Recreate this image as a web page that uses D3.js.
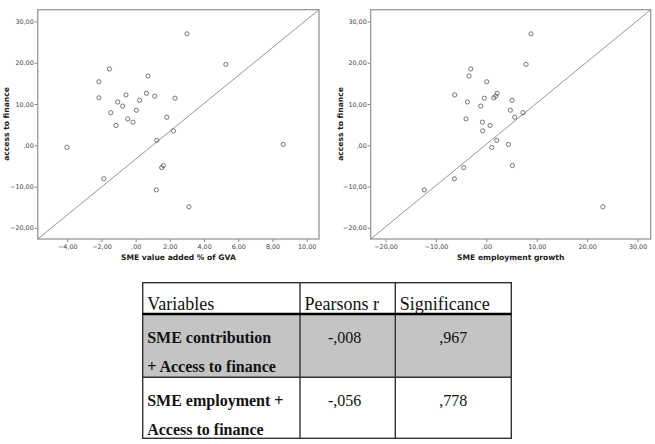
<!DOCTYPE html>
<html>
<head>
<meta charset="utf-8">
<script src="https://cdn.jsdelivr.net/npm/d3@7"></script>
<style>
  body { margin: 0; background: #fff; }
  svg { display: block; opacity: 0.999; }
</style>
</head>
<body>
<script>
// access to finance, shared y for both scatterplots
const accessToFinance = [27.0, 19.6, 18.5, 16.8, 15.4, 12.6, 12.2, 11.9, 11.5, 11.4, 10.9, 10.5, 9.5, 8.5, 7.9, 6.8, 6.4, 5.6, 4.8, 3.5, 1.2, -0.5, 0.2, -4.9, -5.4, -8.1, -10.8, -14.9]
// SME value added % of GVA
const smeValueAdded = [3.0, 5.27, -1.54, 0.72, -2.15, 0.63, -0.57, 1.11, -2.15, 2.30, 0.23, -1.05, -0.76, 0.04, -1.46, 1.82, -0.47, -0.16, -1.15, 2.21, 1.23, -4.02, 8.63, 1.62, 1.52, -1.86, 1.21, 3.11]
// SME employment growth
const smeEmployment = [8.86, 7.87, -3.1, -3.44, 0.07, 2.12, -6.28, 1.85, 1.46, -0.40, 5.09, -3.77, -1.12, 4.76, 7.28, 5.62, -4.03, -0.79, 0.73, -0.73, 2.05, 1.06, 4.37, 5.16, -4.5, -6.35, -12.3, 23.1]

const yTicks = [-20, -10, 0, 10, 20, 30]
const xTicksLeft = [-4, -2, 0, 2, 4, 6, 8, 10]
const xTicksRight = [-20, -10, 0, 10, 20, 30]

const tableHead = ['Variables', 'Pearsons r', 'Significance']
const tableRows = [
  { name: ['SME contribution', '+ Access to finance'], r: '-,008', sig: ',967', shade: true },
  { name: ['SME employment +', 'Access to finance'], r: '-,056', sig: ',778', shade: false }
]

const width = 655
const height = 444
const fmt = (d) => d3.format('.2f')(d).replace('.', ',').replace(/^(-?)0,/, '$1,')

const svg = d3.select('body')
  .append('svg')
  .attr('width', width)
  .attr('height', height)

function scatter(xs, opts) {
  const x = d3.scaleLinear().domain(opts.xDomain).range([opts.left, opts.right])
  const y = d3.scaleLinear().domain([-22.7, 32.85]).range([239, 9.7])
  const g = svg.append('g')

  g.append('g')
    .attr('transform', 'translate(' + opts.left + ',0)')
    .call(d3.axisLeft(y).tickValues(yTicks).tickFormat(fmt).tickSize(3).tickPadding(1))
    .call((a) => a.select('.domain').remove())
  g.append('g')
    .attr('transform', 'translate(0,239)')
    .call(d3.axisBottom(x).tickValues(opts.xTicks).tickFormat(fmt).tickSize(3).tickPadding(2))
    .call((a) => a.select('.domain').remove())
  g.selectAll('.tick line').attr('stroke', '#888')
  g.selectAll('.tick text')
    .attr('fill', '#444')
    .attr('font-family', 'DejaVu Sans')
    .attr('font-size', '6.4px')

  // frame
  g.append('rect')
    .attr('x', opts.left)
    .attr('y', 9.7)
    .attr('width', opts.right - opts.left)
    .attr('height', 239 - 9.7)
    .attr('fill', 'none')
    .attr('stroke', '#999')
    .attr('stroke-width', 1.3)

  // reference diagonal
  g.append('line')
    .attr('x1', x(opts.xDomain[0])).attr('y1', y(-22.7))
    .attr('x2', x(opts.xDomain[1])).attr('y2', y(32.85))
    .attr('stroke', '#888')
    .attr('stroke-width', 0.9)

  g.selectAll('circle')
    .data(xs)
    .enter()
    .append('circle')
    .attr('cx', (d) => x(d))
    .attr('cy', (d, i) => y(accessToFinance[i]))
    .attr('r', 2.1)
    .attr('fill', 'none')
    .attr('stroke', '#555')
    .attr('stroke-width', 0.8)

  g.append('text')
    .attr('x', -124)
    .attr('y', opts.yLabelX)
    .attr('transform', 'rotate(-90)')
    .attr('text-anchor', 'middle')
    .attr('font-family', 'DejaVu Sans')
    .attr('font-weight', 'bold')
    .attr('font-size', '7.6px')
    .attr('fill', '#222')
    .text('access to finance')

  g.append('text')
    .attr('x', (opts.left + opts.right) / 2)
    .attr('y', 260)
    .attr('text-anchor', 'middle')
    .attr('font-family', 'DejaVu Sans')
    .attr('font-weight', 'bold')
    .attr('font-size', '7.6px')
    .attr('fill', '#222')
    .text(opts.xLabel)
}

scatter(smeValueAdded, { left: 37.7, right: 319, xDomain: [-5.73, 10.72], xTicks: xTicksLeft, yLabelX: 9, xLabel: 'SME value added % of GVA' })
scatter(smeEmployment, { left: 370.7, right: 650.7, xDomain: [-22.95, 32.6], xTicks: xTicksRight, yLabelX: 342.5, xLabel: 'SME employment growth' })

// correlation table
const colX = [142.7, 300, 395.3, 511.3]
const rowY = [282.7, 314, 377.3, 438.3]
const t = svg.append('g').attr('font-family', 'Liberation Serif').attr('fill', '#111')

tableRows.forEach((row, i) => {
  if (row.shade) {
    t.append('rect')
      .attr('x', colX[0]).attr('y', rowY[i + 1])
      .attr('width', colX[3] - colX[0]).attr('height', rowY[i + 2] - rowY[i + 1])
      .attr('fill', '#c4c4c4')
  }
})

tableHead.forEach((h, j) => {
  t.append('text')
    .attr('x', colX[j] + 4.5)
    .attr('y', 309.5)
    .attr('font-size', '18px')
    .text(h)
})

tableRows.forEach((row, i) => {
  const top = rowY[i + 1]
  row.name.forEach((s, k) => {
    t.append('text')
      .attr('x', colX[0] + 4.5)
      .attr('y', top + 28.5 + k * 29)
      .attr('font-size', '16px')
      .attr('font-weight', 'bold')
      .text(s)
  })
  t.append('text')
    .attr('x', (colX[1] + colX[2]) / 2 - 3)
    .attr('y', top + 28.5)
    .attr('text-anchor', 'middle')
    .attr('font-size', '16px')
    .text(row.r)
  t.append('text')
    .attr('x', (colX[2] + colX[3]) / 2)
    .attr('y', top + 28.5)
    .attr('text-anchor', 'middle')
    .attr('font-size', '16px')
    .text(row.sig)
})

// grid lines
t.append('rect')
  .attr('x', colX[0]).attr('y', rowY[0])
  .attr('width', colX[3] - colX[0]).attr('height', rowY[3] - rowY[0])
  .attr('fill', 'none').attr('stroke', '#333').attr('stroke-width', 1.4)
colX.slice(1, 3).forEach((cx) => {
  t.append('line')
    .attr('x1', cx).attr('x2', cx).attr('y1', rowY[0]).attr('y2', rowY[3])
    .attr('stroke', '#333').attr('stroke-width', 1.4)
})
t.append('line')
  .attr('x1', colX[0]).attr('x2', colX[3]).attr('y1', rowY[1]).attr('y2', rowY[1])
  .attr('stroke', '#000').attr('stroke-width', 2.4)
t.append('line')
  .attr('x1', colX[0]).attr('x2', colX[3]).attr('y1', rowY[2]).attr('y2', rowY[2])
  .attr('stroke', '#333').attr('stroke-width', 1.4)
</script>
</body>
</html>
